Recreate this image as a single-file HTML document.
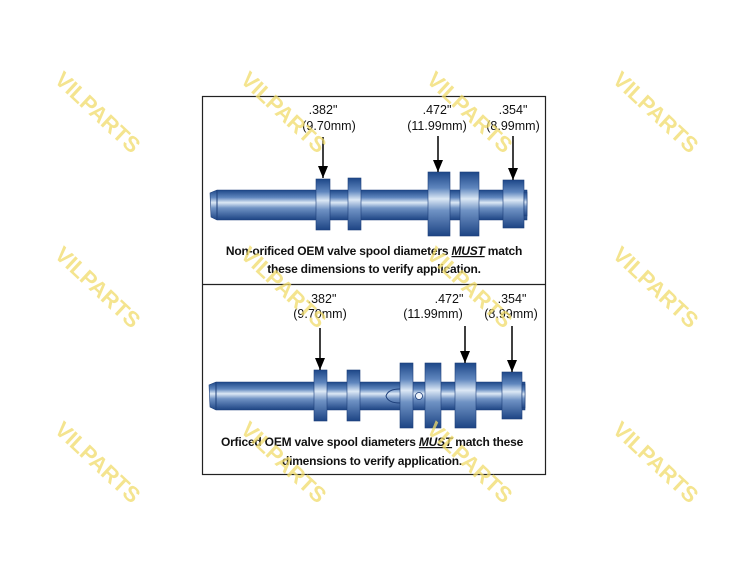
<!DOCTYPE html>
<html><head><meta charset="utf-8"><style>
body{margin:0;background:#fff}
svg{display:block}
.t{font-family:"Liberation Sans",sans-serif;font-size:12.5px;fill:#111}
.c{font-family:"Liberation Sans",sans-serif;font-size:12px;font-weight:bold;fill:#111;letter-spacing:-0.2px}
.w{font-family:"Liberation Sans",sans-serif;font-size:22px;font-weight:bold;fill:#f1dc6a;opacity:.75}
</style></head><body>
<svg width="750" height="580" viewBox="0 0 750 580" xmlns="http://www.w3.org/2000/svg">
<defs>
<linearGradient id="g" x1="0" y1="0" x2="0" y2="1">
<stop offset="0" stop-color="#1d4788"/><stop offset="0.25" stop-color="#5f86be"/>
<stop offset="0.42" stop-color="#dce8f5"/><stop offset="0.6" stop-color="#6f92c4"/>
<stop offset="1" stop-color="#1d4484"/></linearGradient>
<marker id="a" markerWidth="12" markerHeight="10" refX="12" refY="5" orient="auto" markerUnits="userSpaceOnUse"><path d="M0,0 L12,5 L0,10 Z" fill="#000"/></marker>
</defs>
<rect x="202.5" y="96.5" width="343" height="378" fill="#fff" stroke="#222" stroke-width="1.2"/>
<line x1="202" y1="284.5" x2="546" y2="284.5" stroke="#222" stroke-width="1.2"/>
<!-- top spool -->
<g stroke="#1d3f7a" stroke-width="0.6" fill="url(#g)">
<path d="M217,190 L527,190 L527,220 L217,220 L211,217 L210,193 Z"/>
<rect x="316" y="179" width="14" height="51"/>
<rect x="348" y="178" width="13" height="52"/>
<rect x="428" y="172" width="22" height="64"/>
<rect x="460" y="172" width="19" height="64"/>
<rect x="503" y="180" width="21" height="48"/>
<rect x="524" y="192" width="3" height="24"/>
</g>
<line x1="217" y1="190" x2="217" y2="220" stroke="#1d3f7a" stroke-width="1"/>
<text class="t" x="323" y="114" text-anchor="middle">.382"</text>
<text class="t" x="329" y="130" text-anchor="middle">(9.70mm)</text>
<text class="t" x="437" y="114" text-anchor="middle">.472"</text>
<text class="t" x="437" y="130" text-anchor="middle">(11.99mm)</text>
<text class="t" x="513" y="114" text-anchor="middle">.354"</text>
<text class="t" x="513" y="130" text-anchor="middle">(8.99mm)</text>
<line x1="323" y1="137" x2="323" y2="178" stroke="#000" stroke-width="1.5" marker-end="url(#a)"/>
<line x1="438" y1="136" x2="438" y2="172" stroke="#000" stroke-width="1.5" marker-end="url(#a)"/>
<line x1="513" y1="136" x2="513" y2="180" stroke="#000" stroke-width="1.5" marker-end="url(#a)"/>
<text class="c" x="374" y="255" text-anchor="middle">Non-orificed OEM valve spool diameters <tspan font-style="italic" text-decoration="underline">MUST</tspan> match</text>
<text class="c" x="374" y="273" text-anchor="middle">these dimensions to verify application.</text>
<!-- bottom spool -->
<g stroke="#1d3f7a" stroke-width="0.6" fill="url(#g)">
<path d="M216,382 L525,382 L525,410 L216,410 L210,407 L209,385 Z"/>
<rect x="314" y="370" width="13" height="51"/>
<rect x="347" y="370" width="13" height="51"/>
<rect x="400" y="363" width="13" height="65"/>
<rect x="425" y="363" width="16" height="65"/>
<rect x="455" y="363" width="21" height="65"/>
<rect x="502" y="372" width="20" height="47"/>
<rect x="522" y="384" width="3" height="24"/>
</g>
<line x1="216" y1="382" x2="216" y2="410" stroke="#1d3f7a" stroke-width="1"/>
<path d="M400,389 Q388,389 386,396 Q388,403 400,403" fill="none" stroke="#1d3f7a" stroke-width="1"/>
<circle cx="419" cy="396" r="3.5" fill="#eef3fa" stroke="#1d3f7a" stroke-width="0.8"/>
<text class="t" x="322" y="303" text-anchor="middle">.382"</text>
<text class="t" x="320" y="318" text-anchor="middle">(9.70mm)</text>
<text class="t" x="449" y="303" text-anchor="middle">.472"</text>
<text class="t" x="433" y="318" text-anchor="middle">(11.99mm)</text>
<text class="t" x="512" y="303" text-anchor="middle">.354"</text>
<text class="t" x="511" y="318" text-anchor="middle">(8.99mm)</text>
<line x1="320" y1="328" x2="320" y2="370" stroke="#000" stroke-width="1.5" marker-end="url(#a)"/>
<line x1="465" y1="326" x2="465" y2="363" stroke="#000" stroke-width="1.5" marker-end="url(#a)"/>
<line x1="512" y1="326" x2="512" y2="372" stroke="#000" stroke-width="1.5" marker-end="url(#a)"/>
<text class="c" x="372" y="446" text-anchor="middle">Orficed OEM valve spool diameters <tspan font-style="italic" text-decoration="underline">MUST</tspan> match these</text>
<text class="c" x="372" y="465" text-anchor="middle">dimensions to verify application.</text>
<!-- watermarks -->
<g>
<text class="w" transform="translate(98,112) rotate(43)" text-anchor="middle" dy="8">VILPARTS</text>
<text class="w" transform="translate(284,112) rotate(43)" text-anchor="middle" dy="8">VILPARTS</text>
<text class="w" transform="translate(470,112) rotate(43)" text-anchor="middle" dy="8">VILPARTS</text>
<text class="w" transform="translate(656,112) rotate(43)" text-anchor="middle" dy="8">VILPARTS</text>
<text class="w" transform="translate(98,287) rotate(43)" text-anchor="middle" dy="8">VILPARTS</text>
<text class="w" transform="translate(284,287) rotate(43)" text-anchor="middle" dy="8">VILPARTS</text>
<text class="w" transform="translate(470,287) rotate(43)" text-anchor="middle" dy="8">VILPARTS</text>
<text class="w" transform="translate(656,287) rotate(43)" text-anchor="middle" dy="8">VILPARTS</text>
<text class="w" transform="translate(98,462) rotate(43)" text-anchor="middle" dy="8">VILPARTS</text>
<text class="w" transform="translate(284,462) rotate(43)" text-anchor="middle" dy="8">VILPARTS</text>
<text class="w" transform="translate(470,462) rotate(43)" text-anchor="middle" dy="8">VILPARTS</text>
<text class="w" transform="translate(656,462) rotate(43)" text-anchor="middle" dy="8">VILPARTS</text>
</g>
</svg>
</body></html>
